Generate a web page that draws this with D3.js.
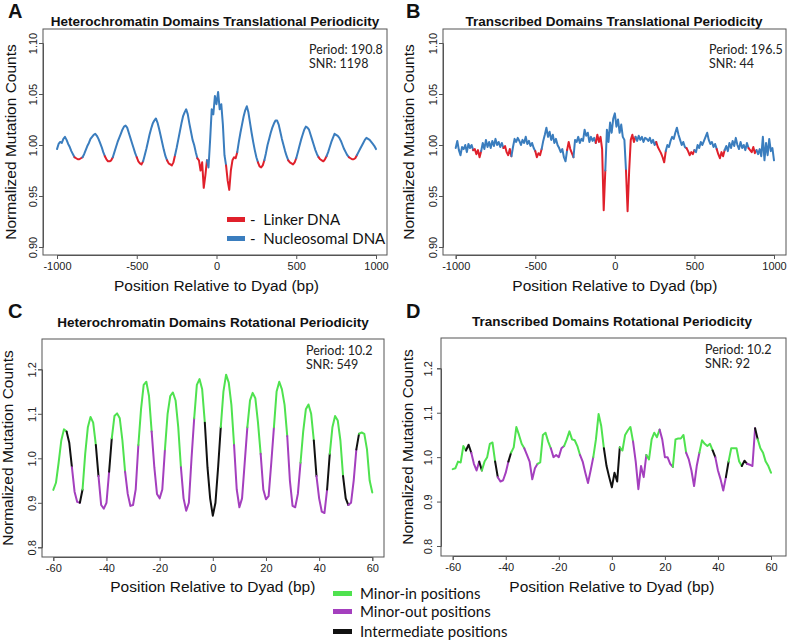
<!DOCTYPE html>
<html><head><meta charset="utf-8">
<script src="https://cdn.jsdelivr.net/npm/d3@7"></script>
<style>body{margin:0;background:#fff}</style>
</head><body>
<svg id="c" width="787" height="640"></svg>
<script>
// ---------------- DATA ----------------
const transPositions = d3.range(-1000, 1001, 10);
const hetTransValues = [
0.996,1.001,1.003,1.002,1.006,1.008,1.005,1.001,0.998,0.994,
0.991,0.988,0.987,0.986,0.986,0.987,0.988,0.991,0.995,0.999,
1.002,1.006,1.008,1.010,1.011,1.009,1.006,1.002,0.998,0.993,
0.989,0.986,0.984,0.984,0.985,0.988,0.993,0.998,1.003,1.007,
1.011,1.015,1.018,1.019,1.017,1.012,1.007,1.002,0.997,0.992,
0.988,0.984,0.982,0.981,0.984,0.990,0.996,1.003,1.010,1.016,
1.021,1.024,1.026,1.022,1.016,1.009,1.002,0.995,0.989,0.985,
0.982,0.981,0.980,0.983,0.990,0.997,1.005,1.013,1.021,1.028,
1.032,1.035,1.030,1.021,1.013,1.005,1.000,0.993,0.987,0.985,
0.975,0.983,0.958,0.970,0.985,0.978,1.005,1.035,1.030,1.048,
1.040,
1.052,1.035,1.040,1.020,0.990,0.980,0.965,0.956,0.975,0.985,
0.988,0.987,0.993,1.003,1.012,1.020,1.028,1.034,1.038,1.032,
1.022,1.012,1.003,0.995,0.988,0.983,0.979,0.978,0.980,0.985,
0.992,1.000,1.006,1.012,1.017,1.021,1.024,1.024,1.020,1.013,
1.006,1.000,0.994,0.989,0.985,0.983,0.982,0.981,0.983,0.987,
0.993,0.999,1.005,1.010,1.015,1.018,1.017,1.015,1.010,1.005,
1.000,0.995,0.991,0.988,0.986,0.985,0.984,0.986,0.989,0.993,
0.998,1.003,1.007,1.011,1.010,1.009,1.007,1.004,1.000,0.996,
0.993,0.990,0.988,0.987,0.986,0.986,0.987,0.990,0.993,0.996,
0.999,1.002,1.005,1.007,1.006,1.005,1.003,1.001,0.999,0.996
];
const txTransValues = [
0.997,1.004,0.995,0.990,0.998,0.996,1.000,0.993,1.001,0.997,
1.000,0.995,0.996,0.991,0.995,0.988,0.994,1.002,0.996,1.005,
0.998,1.003,0.997,1.004,0.999,1.006,1.000,1.003,0.998,1.002,
0.997,0.999,0.993,0.990,0.996,0.989,0.998,1.006,1.003,1.007,
1.004,1.000,1.005,1.002,1.008,1.001,1.004,0.999,1.002,0.997,
0.994,0.988,0.992,0.990,0.996,1.004,1.010,1.017,1.008,1.013,
1.005,1.010,1.002,1.006,1.000,0.997,0.993,0.996,0.988,0.984,
0.995,1.003,0.996,0.992,0.988,1.005,1.003,1.008,1.002,1.006,
1.004,1.015,1.009,1.012,1.003,1.008,1.004,1.007,1.002,1.010,
1.003,1.008,0.996,0.936,0.975,1.015,1.003,1.022,1.012,1.026,
1.031,
1.018,1.025,1.012,1.020,1.008,1.005,0.975,0.935,0.975,1.005,
1.010,1.003,1.008,1.004,1.009,1.005,1.008,1.003,1.007,1.006,
1.004,1.007,1.002,1.005,1.000,1.003,0.998,0.995,0.992,0.988,
0.983,0.994,1.000,0.998,1.004,1.008,1.006,1.012,1.017,1.010,
1.005,1.000,1.003,0.998,0.997,0.994,0.990,0.993,0.991,0.995,
0.993,1.000,0.997,1.003,1.000,1.004,1.008,1.012,1.005,1.001,
1.003,0.998,1.001,0.996,0.991,0.987,0.993,0.989,0.995,0.999,
0.994,1.002,0.997,1.004,0.999,1.007,1.000,0.996,1.003,0.997,
1.000,0.995,1.002,0.997,0.995,0.993,0.998,0.992,0.995,0.991,
0.996,0.989,1.008,0.985,1.002,0.990,1.006,0.994,0.997,0.985
];
const hetLinker = [[-890,-840],[-700,-650],[-500,-460],[-305,-265],[-120,-60],[65,125],[260,300],[450,495],[640,690],[830,875]];
const txLinker = [[-890,-840],[-700,-650],[-500,-460],[-300,-265],[-120,-60],[70,125],[265,315],[455,500],[645,690],[840,890]];

const rotPositions = d3.range(-60, 61, 1);
const hetRotValues = [
0.929,0.945,0.990,1.040,1.065,1.060,1.035,0.980,0.925,0.902,
0.900,0.930,1.010,1.070,1.093,1.080,1.030,0.960,0.895,0.887,
0.900,0.970,1.045,1.095,1.101,1.090,1.040,0.970,0.920,0.893,
0.895,0.930,1.030,1.110,1.165,1.172,1.140,1.060,0.980,0.920,
0.910,0.930,1.020,1.100,1.140,1.148,1.130,1.070,0.980,0.910,
0.882,0.900,1.000,1.090,1.165,1.178,1.155,1.080,0.980,0.910,
0.871,
0.900,0.980,1.070,1.150,1.188,1.170,1.120,1.030,0.930,0.890,
0.910,0.990,1.070,1.130,1.147,1.135,1.080,1.010,0.930,0.908,
0.915,0.990,1.070,1.150,1.172,1.155,1.120,1.050,0.950,0.893,
0.890,0.920,0.990,1.060,1.110,1.121,1.100,1.040,0.960,0.910,
0.880,0.877,0.930,1.010,1.070,1.095,1.085,1.040,0.960,0.910,
0.895,0.900,0.950,1.020,1.055,1.058,1.055,1.020,0.950,0.923
];
const txRotValues = [
0.973,0.975,0.990,0.988,1.025,1.015,1.028,1.010,0.985,0.970,
0.990,0.970,0.990,1.000,1.030,1.033,0.990,0.955,0.945,0.948,
0.965,0.990,1.010,1.022,1.068,1.050,1.030,1.020,1.005,0.990,
0.950,0.975,0.985,0.988,1.050,1.055,1.035,1.020,1.000,1.005,
1.000,1.020,1.025,1.040,1.058,1.040,1.038,1.025,1.005,0.990,
0.965,0.942,0.970,1.000,1.040,1.097,1.070,1.020,0.980,0.955,
0.932,
0.965,0.945,1.022,1.015,1.050,1.060,1.068,1.035,0.990,0.928,
0.980,0.955,1.005,0.995,1.040,1.055,1.045,1.062,1.040,1.000,
1.000,0.985,0.978,1.040,1.042,1.042,1.050,1.010,0.995,0.970,
0.935,0.980,1.010,1.038,1.030,1.025,1.030,1.015,1.000,0.970,
0.950,0.925,0.955,0.990,1.020,1.020,1.020,0.990,0.980,0.992,
0.985,0.983,0.980,1.065,1.040,1.020,1.010,0.990,0.980,0.965
];
// position classes: [start, end, class]
const rotClasses = [
[-60,-55,"in"],[-55,-53,"mid"],[-53,-50,"out"],[-50,-49,"mid"],[-49,-44,"in"],
[-44,-43,"mid"],[-43,-39,"out"],[-39,-38,"mid"],[-38,-33,"in"],[-33,-28,"out"],
[-28,-23,"in"],[-23,-18,"out"],[-18,-12,"in"],[-12,-7,"out"],[-7,-3,"in"],
[-3,3,"mid"],[3,8,"in"],[8,13,"out"],[13,18,"in"],[18,23,"out"],[23,28,"in"],
[28,33,"out"],[33,38,"in"],[38,39,"mid"],[39,43,"out"],[43,44,"mid"],[44,49,"in"],
[49,51,"mid"],[51,54,"out"],[54,55,"mid"],[55,60,"in"]
];
const transTicksX = [-1000,-500,0,500,1000];
const transTicksY = [0.90,0.95,1.00,1.05,1.10];
const rotTicksX = [-60,-40,-20,0,20,40,60];
const rotTicksY = [0.8,0.9,1.0,1.1,1.2];
const transLegend = ["Linker DNA","Nucleosomal DNA"];
const rotLegend = ["Minor-in positions","Minor-out positions","Intermediate positions"];

// ---------------- STYLE ----------------
const COL = {linker:"#e0202b", nuc:"#3a7dbe", in:"#4fe24f", out:"#a43fbe", mid:"#111111"};
const AX = "#555";
const ARIAL = "'Liberation Sans', Arial, sans-serif";
const CAL = "Lato, 'Open Sans', sans-serif";
const svg = d3.select("#c");

function runs(pos, vals, classify){
  const out=[];
  for(let i=0;i<pos.length-1;i++){
    const c=classify((pos[i]+pos[i+1])/2);
    const last=out[out.length-1];
    if(last && last.c===c) last.pts.push([pos[i+1],vals[i+1]]);
    else out.push({c, pts:[[pos[i],vals[i]],[pos[i+1],vals[i+1]]]});
  }
  return out;
}

function panel(p){
  const g=svg.append("g");
  const x=d3.scaleLinear().domain(p.xd).range(p.xr);
  const y=d3.scaleLinear().domain(p.yd).range(p.yr);
  const [L,R,T,B]=p.box;
  g.append("rect").attr("x",L).attr("y",T).attr("width",R-L).attr("height",B-T)
    .attr("fill","none").attr("stroke",AX).attr("stroke-width",1);
  const xa=g.append("g").attr("transform",`translate(0,${B})`)
    .call(d3.axisBottom(x).tickValues(p.xt).tickSize(4).tickPadding(3).tickFormat(d=>String(d)));
  xa.select(".domain").attr("stroke",AX);
  xa.selectAll(".tick line").attr("stroke",AX);
  xa.selectAll("text").attr("font-family",ARIAL).attr("font-size",11).attr("fill","#222");
  const ya=g.append("g").attr("transform",`translate(${L},0)`)
    .call(d3.axisLeft(y).tickValues(p.yt).tickSize(4).tickFormat(p.yf));
  ya.select(".domain").attr("stroke",AX);
  ya.selectAll(".tick line").attr("stroke",AX);
  ya.selectAll("text").attr("font-family",ARIAL).attr("font-size",11).attr("fill","#222")
    .attr("transform","rotate(-90)").attr("x",0).attr("y",-(L-p.ytx)).attr("dy","0.35em").attr("text-anchor","middle");
  // lines
  const line=d3.line().x(d=>x(d[0])).y(d=>y(d[1]));
  runs(p.pos,p.vals,p.cls).forEach(r=>{
    g.append("path").attr("d",line(r.pts)).attr("fill","none").attr("stroke",p.col[r.c])
      .attr("stroke-width",p.sw).attr("stroke-linejoin","round").attr("stroke-linecap","round");
  });
  // texts
  g.append("text").attr("x",p.titleX).attr("y",p.titleY).attr("text-anchor","middle")
    .attr("font-family",ARIAL).attr("font-weight","bold").attr("font-size",13.5).attr("fill","#111").text(p.title);
  g.append("text").attr("x",p.letterX).attr("y",p.letterY)
    .attr("font-family",ARIAL).attr("font-weight","bold").attr("font-size",20).attr("fill","#111").text(p.letter);
  g.append("text").attr("x",(p.xr[0]+p.xr[1])/2).attr("y",p.xlabY).attr("text-anchor","middle")
    .attr("font-family",ARIAL).attr("font-size",15.5).attr("fill","#111").text("Position Relative to Dyad (bp)");
  g.append("text").attr("transform",`translate(${p.ylabX},${(T+B)/2}) rotate(-90)`).attr("text-anchor","middle")
    .attr("font-family",ARIAL).attr("font-size",15.5).attr("fill","#111").text("Normalized Mutation Counts");
  g.append("text").attr("x",p.statX).attr("y",p.statY).attr("font-family",CAL).attr("font-size",12.5).attr("fill","#222").text("Period: "+p.period);
  g.append("text").attr("x",p.statX).attr("y",p.statY+14).attr("font-family",CAL).attr("font-size",12.5).attr("fill","#222").text("SNR: "+p.snr);
  return {x,y,g};
}

const inIntervals=(iv)=>m=>iv.some(d=>m>=d[0]&&m<=d[1])?"linker":"nuc";
const rotCls=m=>{const f=rotClasses.find(d=>m>=d[0]&&m<=d[1]);return f?f[2]:"out";};
const f2=d=>d.toFixed(2), f1=d=>d.toFixed(1);

const A=panel({box:[43,387,29,255],xd:[-1000,1000],xr:[57,376],yd:[0.9,1.1],yr:[247,43],xt:transTicksX,yt:transTicksY,yf:f2,ytx:33,
  pos:transPositions,vals:hetTransValues,cls:inIntervals(hetLinker),col:COL,sw:2,
  title:"Heterochromatin Domains Translational Periodicity",titleX:215,titleY:26,letter:"A",letterX:8,letterY:18,
  xlabY:291,ylabX:16,statX:309,statY:54,period:"190.8",snr:"1198"});
const Bp=panel({box:[443,786,29,255],xd:[-1000,1000],xr:[455.7,774],yd:[0.9,1.1],yr:[247,43],xt:transTicksX,yt:transTicksY,yf:f2,ytx:433,
  pos:transPositions,vals:txTransValues,cls:inIntervals(txLinker),col:COL,sw:2,
  title:"Transcribed Domains Translational Periodicity",titleX:614,titleY:26,letter:"B",letterX:406,letterY:18,
  xlabY:291,ylabX:414,statX:709,statY:54,period:"196.5",snr:"44"});
const C=panel({box:[42,384,339,557],xd:[-60,60],xr:[53.3,372.3],yd:[0.8,1.2],yr:[547.3,369.3],xt:rotTicksX,yt:rotTicksY,yf:f1,ytx:32,
  pos:rotPositions,vals:hetRotValues,cls:rotCls,col:COL,sw:2,
  title:"Heterochromatin Domains Rotational Periodicity",titleX:213,titleY:327,letter:"C",letterX:8,letterY:318,
  xlabY:592,ylabX:13,statX:306,statY:355,period:"10.2",snr:"549"});
const D=panel({box:[441,786,338,556],xd:[-60,60],xr:[452.7,771],yd:[0.8,1.2],yr:[546,368.3],xt:rotTicksX,yt:rotTicksY,yf:f1,ytx:428,
  pos:rotPositions,vals:txRotValues,cls:rotCls,col:COL,sw:2,
  title:"Transcribed Domains Rotational Periodicity",titleX:612,titleY:326,letter:"D",letterX:406,letterY:318,
  xlabY:592,ylabX:413,statX:705,statY:354,period:"10.2",snr:"92"});

// legend A
const legA=svg.append("g");
[["linker",transLegend[0],219.5],["nuc",transLegend[1],238.5]].forEach(([k,t,yy])=>{
  legA.append("rect").attr("x",227).attr("y",yy-2.5).attr("width",18).attr("height",5).attr("fill",COL[k]);
  legA.append("text").attr("x",250).attr("y",yy+5.5).attr("font-family",CAL).attr("font-size",15).attr("fill","#111")
    .attr("xml:space","preserve").text("-  "+t);
});
// bottom legend
const legB=svg.append("g");
[["in",rotLegend[0],593.5],["out",rotLegend[1],611.5],["mid",rotLegend[2],631.5]].forEach(([k,t,yy])=>{
  legB.append("rect").attr("x",333).attr("y",yy-2.5).attr("width",19).attr("height",5).attr("fill",COL[k]);
  legB.append("text").attr("x",360).attr("y",yy+5.5).attr("font-family",CAL).attr("font-size",15).attr("fill","#111").text(t);
});
</script>
</body></html>
